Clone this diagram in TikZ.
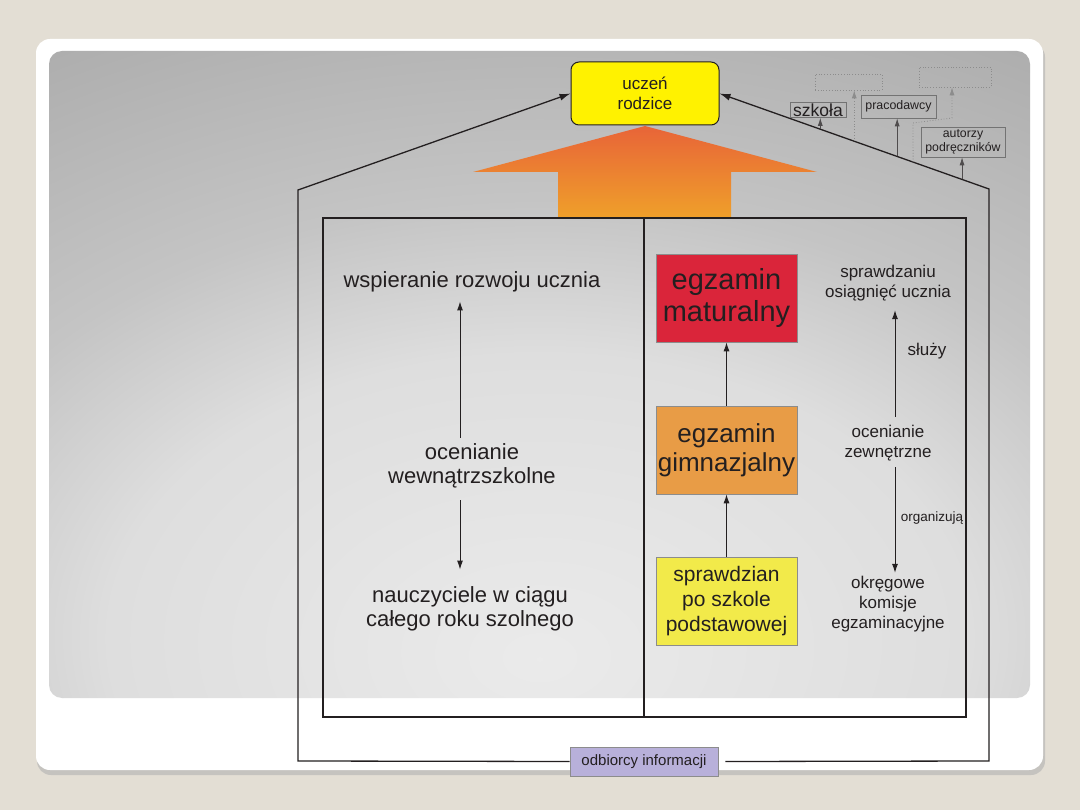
\documentclass[tikz,border=0pt]{standalone}
\usepackage{fontspec}
\setmainfont{Liberation Sans}
\usetikzlibrary{arrows.meta,calc}
\definecolor{beige}{RGB}{227,222,212}
\definecolor{ink}{RGB}{35,31,32}
\definecolor{bgA}{gray}{0.92}
\definecolor{bgB}{gray}{0.87}
\definecolor{bgC}{gray}{0.77}
\definecolor{bgD}{gray}{0.655}
\definecolor{uczYellow}{RGB}{255,242,0}
\definecolor{matRed}{RGB}{218,37,58}
\definecolor{gimOrange}{RGB}{232,156,70}
\definecolor{sprYellow}{RGB}{242,234,74}
\definecolor{odbPurple}{RGB}{184,176,218}
\definecolor{arrTop}{RGB}{232,100,56}
\definecolor{arrBot}{RGB}{239,160,42}
\pgfdeclareradialshading{slidebg}{\pgfpoint{0bp}{-22bp}}{color(0bp)=(bgA); color(22bp)=(bgB); color(33bp)=(bgC); color(55bp)=(bgD); color(300bp)=(bgD)}
\begin{document}
\begin{tikzpicture}[x=1pt,y=-1pt,
  txt/.style={text=ink, align=center, inner sep=0pt},
  arr/.style={draw=ink, line width=1pt, -{Latex[length=9pt,width=6pt]}},
  smallarr/.style={draw=ink!80, line width=0.7pt, -{Latex[length=8pt,width=5pt]}},
  houseline/.style={draw=ink, line width=1.3pt},
  exam/.style={draw=black!45, line width=0.6pt, minimum width=141pt, minimum height=88pt, inner sep=0pt, text=ink, align=center},
  tag/.style={draw=black!55, line width=0.7pt, inner sep=1.5pt, text=ink, align=center},
  ghost/.style={draw=black!45, dotted, line width=0.8pt, inner sep=0pt},
  ghostline/.style={draw=black!45, dotted, line width=0.8pt, -{Latex[length=8pt,width=5pt]}},
  f22/.style={font=\fontsize{22}{24}\selectfont},
  f17/.style={font=\fontsize{17}{20}\selectfont}
]
\useasboundingbox (0,0) rectangle (1080,810);
% slide background
\fill[beige] (0,0) rectangle (1080,810);
\fill[black!30,opacity=0.6,rounded corners=14pt] (37,43) rectangle (1045,775);
\fill[white,rounded corners=14pt] (36,39) rectangle (1043,770);
\shade[shading=slidebg,rounded corners=13pt] (49,51) rectangle (1030,698);

% orange arrow
\shade[top color=arrTop,bottom color=arrBot] (645,126) -- (473,172) -- (558,172) -- (558,218) -- (731,218) -- (731,172) -- (817,172) -- cycle;

% inner frame
\draw[ink,line width=1.8pt] (323,218) rectangle (966,717);
\draw[ink,line width=1.8pt] (644,218) -- (644,717);

% top node
\node[draw=ink,line width=1pt,fill=uczYellow,rounded corners=8pt,minimum width=148pt,minimum height=63pt,inner sep=0pt,text=ink,align=center,f17] (u) at (645,93.5) {uczeń\\rodzice};

% bottom node
\node[draw=black!45,line width=0.6pt,fill=odbPurple,minimum width=148pt,minimum height=29pt,inner sep=0pt,text=ink,font=\fontsize{15}{18}\selectfont] (odb) at (644,761.5) {odbiorcy informacji};

% house outline
\coordinate (lb) at (298,761);
\coordinate (lc) at (298,190);
\coordinate (rb) at (989,761);
\coordinate (rc) at (989,189);
\draw[houseline,-{Latex[length=11pt,width=7pt]}] (odb.west) -- (lb) -- (lc) -- (u.west);
\draw[houseline,-{Latex[length=11pt,width=7pt]}] ([xshift=7pt]odb.east) -- (rb) -- (rc) -- (u.east);

% top-right receivers
\node[tag,font=\fontsize{17.5}{19}\selectfont,minimum width=56pt,minimum height=15pt,inner sep=0.5pt] (szk) at (818,110) {szkoła};
\node[tag,font=\fontsize{12.4}{14}\selectfont,minimum width=75pt,minimum height=23pt] (pra) at (898.5,106.5) {pracodawcy};
\node[tag,font=\fontsize{12.3}{14}\selectfont,minimum width=84pt,minimum height=30pt,inner sep=0.5pt] (aut) at (963,142) {autorzy\\podręczników};
\node[ghost,minimum width=67pt,minimum height=16pt] (g1) at (848.5,82) {};
\node[ghost,minimum width=72pt,minimum height=20pt] (g2) at (955,77) {};

\coordinate (p1) at ($(rc)!0.626!(u.east)$);
\coordinate (p2) at ($(rc)!0.5!(u.east)$);
\coordinate (p3) at ($(rc)!0.3407!(u.east)$);
\coordinate (p4) at ($(rc)!0.2815!(u.east)$);
\coordinate (p5) at ($(rc)!0.1!(u.east)$);
\coordinate (k1) at (913,123);
\coordinate (k2) at (952,118);
\draw[smallarr] (p1) -- (p1 |- szk.south);
\draw[ghostline] (p2) -- (p2 |- g1.south);
\draw[smallarr] (p3) -- (p3 |- pra.south);
\draw[ghostline] (p4) -- (k1) -- (k2) -- (k2 |- g2.south);
\draw[smallarr] (p5) -- (p5 |- aut.south);

% left column
\node[txt,f22] (wsp) at (472,282) {wspieranie rozwoju ucznia};
\node[txt,f22] (ow) at (472,466) {ocenianie\\wewnątrzszkolne};
\node[txt,f22] (nau) at (470,609) {nauczyciele w ciągu\\całego roku szolnego};
\coordinate (lx) at (460,0);
\draw[arr] ([yshift=6pt]ow.north -| lx) -- ([yshift=-9pt]wsp.south -| lx);
\draw[arr] ([yshift=-12pt]ow.south -| lx) -- ([yshift=17pt]nau.north -| lx);

% exam boxes
\node[exam,fill=matRed,font=\fontsize{29}{32}\selectfont] (mat) at (726.5,298) {egzamin\\maturalny};
\node[exam,fill=gimOrange,font=\fontsize{26}{29}\selectfont] (gim) at (726.5,450) {egzamin\\gimnazjalny};
\node[exam,fill=sprYellow,font=\fontsize{21}{25}\selectfont] (spw) at (726.5,601.5) {sprawdzian\\po szkole\\podstawowej};
\draw[arr] (spw.north) -- (gim.south);
\draw[arr] (gim.north) -- (mat.south);

% right column
\node[txt,f17] (spr) at (888,283) {sprawdzaniu\\osiągnięć ucznia};
\node[txt,f17] (oz) at (888,443) {ocenianie\\zewnętrzne};
\node[txt,f17] (okr) at (888,604) {okręgowe\\komisje\\egzaminacyjne};
\coordinate (rx) at (895,0);
\draw[arr] ([yshift=8pt]oz.north -| rx) -- ([yshift=-9pt]spr.south -| rx);
\draw[arr] ([yshift=-6pt]oz.south -| rx) -- ([yshift=3pt]okr.north -| rx);
\node[txt,f17] (sl) at (927,351) {służy};
\node[txt,font=\fontsize{13.5}{16}\selectfont] (org) at (932,518) {organizują};
\end{tikzpicture}
\end{document}
